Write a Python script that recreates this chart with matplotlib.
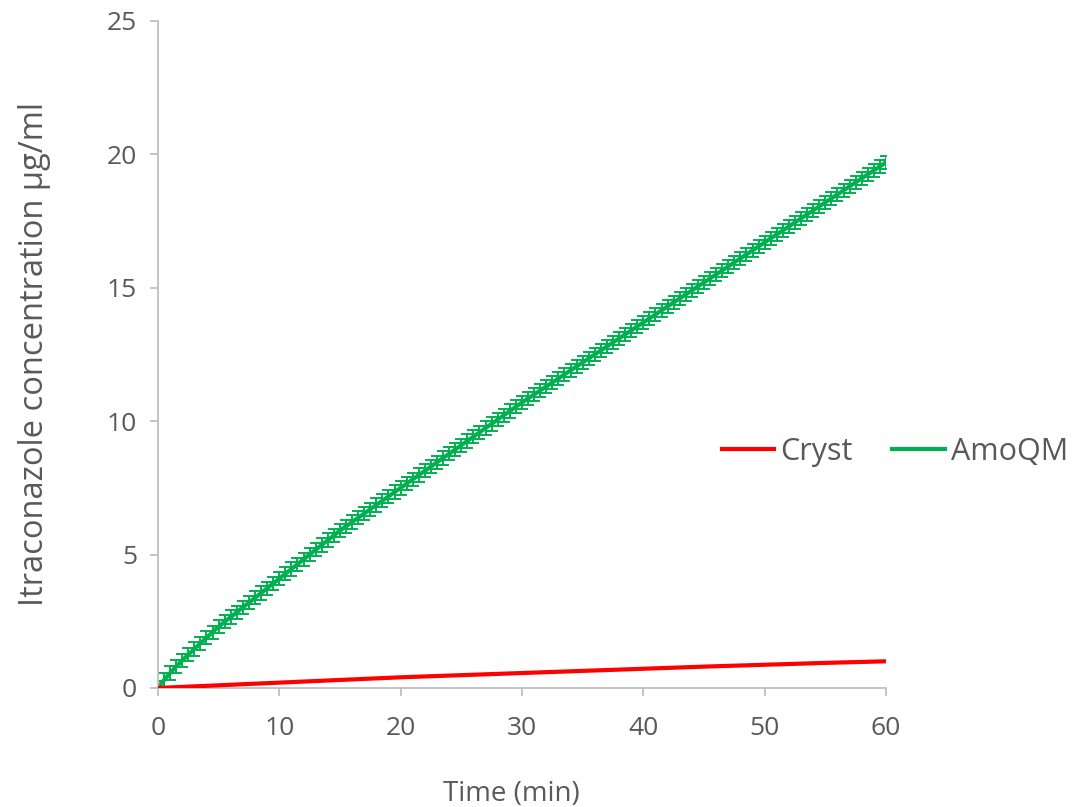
import numpy as np
import matplotlib
matplotlib.use("Agg")
import matplotlib.pyplot as plt

plt.rcParams['font.family'] = ['Open Sans', 'DejaVu Sans']

# AmoQM sampled every 0.5 min
amo_time = [i * 0.5 for i in range(121)]
amo_conc = [
    0.00, 0.30, 0.56, 0.80, 1.03, 1.25, 1.46, 1.67, 1.88, 2.09, 2.30,
    2.48, 2.66, 2.84, 3.02, 3.20, 3.38, 3.56, 3.74, 3.92, 4.10,
    4.28, 4.46, 4.64, 4.82, 5.00, 5.18, 5.36, 5.54, 5.72, 5.90,
    6.06, 6.22, 6.38, 6.54, 6.70, 6.86, 7.02, 7.18, 7.34, 7.50,
    7.66, 7.82, 7.98, 8.14, 8.30, 8.46, 8.62, 8.78, 8.94, 9.10,
    9.26, 9.42, 9.58, 9.74, 9.90, 10.06, 10.22, 10.38, 10.54, 10.70,
    10.85, 11.00, 11.15, 11.30, 11.45, 11.60, 11.75, 11.90, 12.05, 12.20,
    12.35, 12.50, 12.65, 12.80, 12.95, 13.10, 13.25, 13.40, 13.55, 13.70,
    13.85, 14.00, 14.15, 14.30, 14.45, 14.60, 14.75, 14.90, 15.05, 15.20,
    15.35, 15.50, 15.65, 15.80, 15.95, 16.10, 16.25, 16.40, 16.55, 16.70,
    16.85, 17.00, 17.15, 17.30, 17.45, 17.60, 17.75, 17.90, 18.05, 18.20,
    18.35, 18.50, 18.65, 18.80, 18.95, 19.10, 19.25, 19.40, 19.55, 19.70,
]
amo_err = [0.25] * 121

cryst_time = [0, 5, 10, 15, 20, 25, 30, 35, 40, 45, 50, 55, 60]
cryst_conc = [0.0, 0.10, 0.20, 0.30, 0.40, 0.48, 0.56, 0.64, 0.72, 0.80, 0.87, 0.94, 1.00]

grey = '#595959'
axis_grey = '#BFBFBF'

fig = plt.figure(figsize=(10.76, 8.07), dpi=100)
ax = fig.add_axes([0.1468, 0.1475, 0.8234 - 0.1468, 0.974 - 0.1475])

ax.plot(cryst_time, cryst_conc, color='#FF0000', lw=3, label='Cryst',
        solid_capstyle='round', zorder=3)
ax.errorbar(amo_time, amo_conc, yerr=amo_err, color='#00B050', lw=3,
            elinewidth=1.4, capsize=4, capthick=1.4, label='AmoQM',
            zorder=2)

ax.set_xlim(0, 60)
ax.set_ylim(0, 25)
ax.set_xticks(range(0, 61, 10))
ax.set_yticks(range(0, 26, 5))

for s in ['top', 'right']:
    ax.spines[s].set_visible(False)
for s in ['left', 'bottom']:
    ax.spines[s].set_color(axis_grey)
    ax.spines[s].set_linewidth(1.3)

ax.tick_params(axis='both', colors=axis_grey, length=6, width=1.3,
               labelcolor=grey, labelsize=19)
ax.tick_params(axis='x', pad=14)
ax.tick_params(axis='y', pad=9)

ax.set_xlabel('Time (min)', fontsize=20, color=grey, labelpad=28, x=0.486)
ax.set_ylabel('Itraconazole concentration µg/ml', fontsize=23.5, color=grey,
              labelpad=40)

handles = [plt.Line2D([], [], color='#FF0000', lw=3),
           plt.Line2D([], [], color='#00B050', lw=3)]
fig.legend(handles, ['Cryst', 'AmoQM'], loc='center left',
           bbox_to_anchor=(0.645, 1 - 452 / 807), ncol=2, frameon=False,
           fontsize=22, labelcolor=grey, handlelength=1.73,
           handletextpad=0.2, columnspacing=1.27)

fig.savefig('out.png', dpi=100, facecolor='white')
